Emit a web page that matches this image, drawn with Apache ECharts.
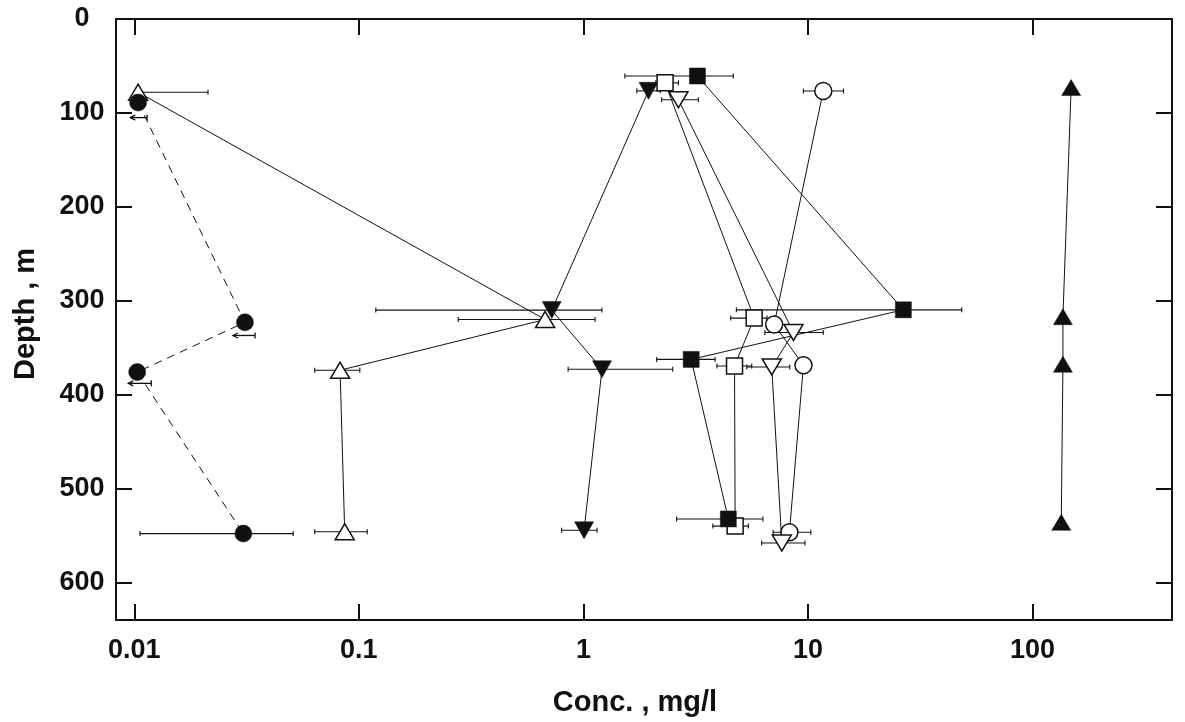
<!DOCTYPE html>
<html>
<head>
<meta charset="utf-8">
<script src="https://cdn.jsdelivr.net/npm/echarts@6/dist/echarts.min.js"></script>
<style>
  html, body { margin: 0; padding: 0; background: #fff; }
  #chart { width: 1185px; height: 722px; }
</style>
</head>
<body>
<div id="chart"></div>
<script>
// Concentration (mg/l, log scale) against depth (m) for eight profiles.
const concTicks = [0.01, 0.1, 1, 10, 100];
const concTickLabels = ['0.01', '0.1', '1', '10', '100'];
const depthTicks = [0, 100, 200, 300, 400, 500, 600];

// filled circles, dashed profile
const filledCircleConc = [0.0104, 0.0311, 0.0103, 0.0306];
const filledCircleDepth = [89, 323, 376, 548];
const filledCircleErr = [null, null, null, [0.0106, 0.051]];
// "less than" arrows under the filled circles: [from, to, depth]
const filledCircleLimits = [[0.0096, 0.0114, 105], [0.0275, 0.0345, 337], [0.0094, 0.0119, 388]];

// open triangles
const openTriConc = [0.0104, 0.675, 0.0825, 0.0865];
const openTriDepth = [78, 320, 374, 546];
const openTriErr = [[0.0104, 0.0213], [0.277, 1.127], [0.0636, 0.101], [0.0636, 0.109]];

// filled inverted triangles
const filledInvTriConc = [1.95, 0.723, 1.21, 1.007];
const filledInvTriDepth = [76.5, 310, 373, 544.5];
const filledInvTriErr = [[1.73, 2.2], [0.119, 1.21], [0.855, 2.5], [0.80, 1.15]];

// filled squares
const filledSqConc = [3.22, 26.6, 3.02, 4.42];
const filledSqDepth = [60.7, 309.7, 362.5, 532.4];
const filledSqErr = [[1.53, 4.65], [4.8, 48.4], [2.12, 3.86], [2.6, 6.3]];

// open squares
const openSqConc = [2.31, 5.76, 4.71, 4.74];
const openSqDepth = [68, 318.5, 369.5, 540];
const openSqErr = [[2.1, 2.65], [4.53, 6.57], [3.93, 5.62], [3.77, 5.43]];

// open inverted triangles
const openInvTriConc = [2.65, 8.62, 6.9, 7.65];
const openInvTriDepth = [86, 333.8, 370.6, 558];
const openInvTriErr = [[2.23, 3.25], [6.43, 11.7], [5.34, 8.3], [6.22, 9.7]];

// open circles
const openCircleConc = [11.7, 7.07, 9.55, 8.27];
const openCircleDepth = [76.7, 325.3, 368.8, 546.6];
const openCircleErr = [[9.54, 14.4], null, null, [7.0, 10.3]];

// filled triangles
const filledTriConc = [148.6, 136.6, 136.6, 134.3];
const filledTriDepth = [73, 317, 367.6, 536];

const INK = '#111';
const FONT = '"Liberation Sans", Arial, Helvetica, sans-serif';

function pairs(xs, ys) { return xs.map((x, i) => [x, ys[i]]); }

function errRows(errs, depths) {
  const rows = [];
  errs.forEach((e, i) => { if (e) rows.push([e[0], e[1], depths[i]]); });
  return rows;
}

function renderErrorBar(params, api) {
  const lo = api.coord([api.value(0), api.value(2)]);
  const hi = api.coord([api.value(1), api.value(2)]);
  const cap = 2.5;
  const st = { stroke: INK, lineWidth: 1.1 };
  return {
    type: 'group',
    children: [
      { type: 'line', shape: { x1: lo[0], y1: lo[1], x2: hi[0], y2: hi[1] }, style: st },
      { type: 'line', shape: { x1: lo[0], y1: lo[1] - cap, x2: lo[0], y2: lo[1] + cap }, style: st },
      { type: 'line', shape: { x1: hi[0], y1: hi[1] - cap, x2: hi[0], y2: hi[1] + cap }, style: st }
    ]
  };
}

function renderLimitArrow(params, api) {
  const lo = api.coord([api.value(0), api.value(2)]);
  const hi = api.coord([api.value(1), api.value(2)]);
  const st = { stroke: INK, lineWidth: 1.3, fill: null };
  return {
    type: 'group',
    children: [
      { type: 'line', shape: { x1: lo[0], y1: lo[1], x2: hi[0], y2: hi[1] }, style: st },
      { type: 'polyline', shape: { points: [[lo[0] + 5, lo[1] - 2.5], [lo[0], lo[1]], [lo[0] + 5, lo[1] + 2.5]] }, style: st },
      { type: 'line', shape: { x1: hi[0], y1: hi[1] - 3, x2: hi[0], y2: hi[1] + 3 }, style: st }
    ]
  };
}

function errSeries(rows) {
  return {
    type: 'custom', renderItem: renderErrorBar, data: rows,
    encode: { x: [0, 1], y: 2 }, silent: true, z: 1
  };
}

// connecting line of a profile (drawn beneath every marker)
function profileLine(conc, depth, dash) {
  return {
    type: 'line', data: pairs(conc, depth), showSymbol: false, symbol: 'none',
    lineStyle: { color: INK, width: 1, type: dash || 'solid' },
    emphasis: { disabled: true }, silent: true, z: 2
  };
}

// markers of a profile
function profileMarks(conc, depth, symbol, size, filled, rotate) {
  return {
    type: 'scatter', data: pairs(conc, depth),
    symbol: symbol, symbolSize: size, symbolRotate: rotate || 0,
    itemStyle: {
      color: filled ? INK : '#fff', borderColor: INK,
      borderWidth: filled ? 0.5 : 1.5, opacity: 1
    },
    emphasis: { disabled: true }, z: 3
  };
}

const concMin = 0.00829;
const concMax = 418;

function concLabel(v) {
  for (let i = 0; i < concTicks.length; i++) {
    if (Math.abs(v / concTicks[i] - 1) < 1e-6) return concTickLabels[i];
  }
  return '';
}
function depthLabel(v) {
  return depthTicks.indexOf(v) >= 0 ? String(v) : '';
}

function axisLine() { return { show: true, onZero: false, lineStyle: { color: INK, width: 2 } }; }
function tickInside() { return { show: true, inside: true, length: 16, lineStyle: { color: INK, width: 2 } }; }

const labelFont = { color: INK, fontFamily: FONT, fontWeight: 'bold', fontSize: 27 };

const option = {
  backgroundColor: '#fff',
  animation: false,
  grid: { left: 116, right: 13, top: 19, bottom: 101 },
  xAxis: [
    {
      type: 'log', logBase: 10, min: concMin, max: concMax, position: 'bottom',
      axisLine: axisLine(), axisTick: tickInside(), splitLine: { show: false },
      axisLabel: Object.assign({ formatter: concLabel, margin: 17 }, labelFont),
      name: 'Conc. , mg/l', nameLocation: 'middle', nameGap: 68,
      nameTextStyle: { color: INK, fontFamily: FONT, fontWeight: 'bold', fontSize: 29, padding: [0, 18, 0, 0] }
    },
    {
      type: 'log', logBase: 10, min: concMin, max: concMax, position: 'top',
      axisLine: axisLine(), axisTick: tickInside(), axisLabel: { show: false }, splitLine: { show: false }
    }
  ],
  yAxis: [
    {
      type: 'value', inverse: true, min: 0, max: 640, interval: 100, position: 'left',
      axisLine: axisLine(), axisTick: tickInside(), splitLine: { show: false },
      axisLabel: Object.assign({ formatter: depthLabel, margin: 34, align: 'center' }, labelFont)
    },
    {
      type: 'value', inverse: true, min: 0, max: 640, interval: 100, position: 'right',
      axisLine: axisLine(), axisTick: tickInside(), axisLabel: { show: false }, splitLine: { show: false }
    }
  ],
  graphic: [
    {
      type: 'text', x: 26, y: 314, rotation: Math.PI / 2,
      style: { text: 'Depth , m', fill: INK, font: 'bold 29px ' + FONT, align: 'center', verticalAlign: 'middle' }
    }
  ],
  series: [
    errSeries(errRows(filledCircleErr, filledCircleDepth)),
    errSeries(errRows(openTriErr, openTriDepth)),
    errSeries(errRows(filledInvTriErr, filledInvTriDepth)),
    errSeries(errRows(filledSqErr, filledSqDepth)),
    errSeries(errRows(openSqErr, openSqDepth)),
    errSeries(errRows(openInvTriErr, openInvTriDepth)),
    errSeries(errRows(openCircleErr, openCircleDepth)),
    {
      type: 'custom', renderItem: renderLimitArrow, data: filledCircleLimits,
      encode: { x: [0, 1], y: 2 }, silent: true, z: 1
    },
    profileLine(filledCircleConc, filledCircleDepth, [8, 6]),
    profileLine(openTriConc, openTriDepth),
    profileLine(filledInvTriConc, filledInvTriDepth),
    profileLine(openSqConc, openSqDepth),
    profileLine(filledSqConc, filledSqDepth),
    profileLine(openCircleConc, openCircleDepth),
    profileLine(openInvTriConc, openInvTriDepth),
    profileLine(filledTriConc, filledTriDepth),
    profileMarks(openTriConc, openTriDepth, 'triangle', [19, 16], false),
    profileMarks(filledCircleConc, filledCircleDepth, 'circle', 17, true),
    profileMarks(filledInvTriConc, filledInvTriDepth, 'triangle', [19, 17], true, 180),
    profileMarks(openSqConc, openSqDepth, 'rect', 16, false),
    profileMarks(filledSqConc, filledSqDepth, 'rect', 16, true),
    profileMarks(openCircleConc, openCircleDepth, 'circle', 17, false),
    profileMarks(openInvTriConc, openInvTriDepth, 'triangle', [19, 16], false, 180),
    profileMarks(filledTriConc, filledTriDepth, 'triangle', [19, 16], true)
  ]
};

const chart = echarts.init(document.getElementById('chart'), null, { renderer: 'canvas' });
chart.setOption(option);
</script>
</body>
</html>
